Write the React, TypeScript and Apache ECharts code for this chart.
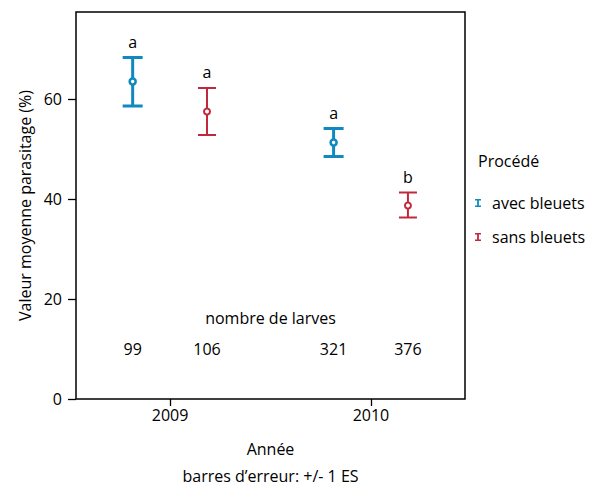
import React, { useEffect, useRef } from "react";
import * as echarts from "echarts";

const years = [2009, 2010];
const seriesNames = ["avec bleuets", "sans bleuets"];
const colors = ["#1089bf", "#c0283c"];
// mean, lower, upper per year
const avecMean = [63.5, 51.3];
const avecLow = [58.6, 48.5];
const avecHigh = [68.3, 54.1];
const sansMean = [57.5, 38.7];
const sansLow = [52.8, 36.3];
const sansHigh = [62.2, 41.3];
const avecLetters = ["a", "a"];
const sansLetters = ["a", "b"];
const avecCounts = [99, 321];
const sansCounts = [106, 376];
const yTicks = [0, 20, 40, 60];

const FONT = "'Open Sans', sans-serif";

function makeRender(dodge: number, lineW: number, capW: number, color: string, ringW: number) {
  return (params: any, api: any) => {
    const x = api.value(0);
    const m = api.value(1);
    const lo = api.value(2);
    const hi = api.value(3);
    const letter = api.value(4);
    const count = api.value(5);
    const step = api.coord([2010, 0])[0] - api.coord([2009, 0])[0];
    const c = api.coord([x, m]);
    const cx = c[0] + step * dodge;
    const yT = api.coord([x, hi])[1];
    const yB = api.coord([x, lo])[1];
    const yCount = api.coord([x, 10])[1];
    const ls = { stroke: color, lineWidth: lineW };
    return {
      type: "group",
      children: [
        { type: "line", shape: { x1: cx, y1: yT, x2: cx, y2: yB }, style: ls },
        { type: "line", shape: { x1: cx - capW / 2, y1: yT, x2: cx + capW / 2, y2: yT }, style: ls },
        { type: "line", shape: { x1: cx - capW / 2, y1: yB, x2: cx + capW / 2, y2: yB }, style: ls },
        { type: "circle", shape: { cx, cy: c[1], r: 3 }, style: { fill: "#fff", stroke: color, lineWidth: ringW } },
        {
          type: "text",
          x: cx,
          y: yT - 16,
          style: { text: String(letter), fill: "#000", font: `16px ${FONT}`, align: "center", verticalAlign: "middle" },
        },
        {
          type: "text",
          x: cx,
          y: yCount,
          style: { text: String(count), fill: "#000", font: `16px ${FONT}`, align: "center", verticalAlign: "middle" },
        },
      ],
    };
  };
}

export default function App() {
  const ref = useRef<HTMLDivElement>(null);
  useEffect(() => {
    if (!ref.current) return;
    const chart = echarts.init(ref.current, undefined, { renderer: "svg" });
    const avecData = years.map((y, i) => [y, avecMean[i], avecLow[i], avecHigh[i], avecLetters[i], avecCounts[i]]);
    const sansData = years.map((y, i) => [y, sansMean[i], sansLow[i], sansHigh[i], sansLetters[i], sansCounts[i]]);
    const icon = "path://M0,0H6V1.6H3.9V6.4H6V8H0V6.4H2.1V1.6H0Z";
    chart.setOption({
      animation: false,
      backgroundColor: "#fff",
      textStyle: { fontFamily: FONT },
      grid: { left: 76, top: 12, right: 129, bottom: 88, show: true, borderColor: "#000", borderWidth: 1.5, backgroundColor: "transparent" },
      xAxis: {
        type: "value",
        min: 2008.532,
        max: 2010.468,
        name: "Année",
        nameLocation: "middle",
        nameGap: 42,
        nameTextStyle: { fontSize: 16, color: "#000", fontFamily: FONT },
        axisLine: { show: false },
        splitLine: { show: false },
        axisTick: { show: true, length: 7, lineStyle: { color: "#000", width: 1.3 }, customValues: years },
        axisLabel: { customValues: years, fontSize: 16, color: "#000", margin: 8, fontFamily: FONT, formatter: (v: number) => String(v) },
      },
      yAxis: {
        type: "value",
        min: 0,
        max: 77.4,
        name: "Valeur moyenne parasitage (%)",
        nameLocation: "middle",
        nameGap: 40,
        nameTextStyle: { fontSize: 16, color: "#000", fontFamily: FONT },
        axisLine: { show: false },
        splitLine: { show: false },
        axisTick: { show: true, length: 8, lineStyle: { color: "#000", width: 1.3 }, customValues: yTicks },
        axisLabel: { customValues: yTicks, fontSize: 16, color: "#000", margin: 14, fontFamily: FONT },
      },
      legend: {
        orient: "vertical",
        left: 475,
        top: 195,
        padding: 0,
        itemWidth: 6,
        itemHeight: 8,
        itemGap: 18,
        icon,
        data: seriesNames,
        textStyle: { fontSize: 16, color: "#000", lineHeight: 16, padding: [0, 0, 0, 6], fontFamily: FONT },
      },
      graphic: [
        { type: "text", x: 478, y: 161, style: { text: "Procédé", font: `16px ${FONT}`, fill: "#000", verticalAlign: "middle" } },
        { type: "text", x: 270.5, y: 318, style: { text: "nombre de larves", font: `16px ${FONT}`, fill: "#000", align: "center", verticalAlign: "middle" } },
        { type: "text", x: 270.5, y: 476, style: { text: "barres d’erreur: +/- 1 ES", font: `16px ${FONT}`, fill: "#000", align: "center", verticalAlign: "middle" } },
      ],
      series: [
        {
          name: seriesNames[0],
          type: "custom",
          itemStyle: { color: colors[0] },
          renderItem: makeRender(-0.186, 3, 20, colors[0], 2.6),
          encode: { x: 0, y: [1, 2, 3] },
          data: avecData,
        },
        {
          name: seriesNames[1],
          type: "custom",
          itemStyle: { color: colors[1] },
          renderItem: makeRender(0.184, 2, 18, colors[1], 2),
          encode: { x: 0, y: [1, 2, 3] },
          data: sansData,
        },
      ],
    });
    return () => chart.dispose();
  }, []);
  return <div ref={ref} style={{ width: 594, height: 487, position: "absolute", left: 0, top: 0 }} />;
}
